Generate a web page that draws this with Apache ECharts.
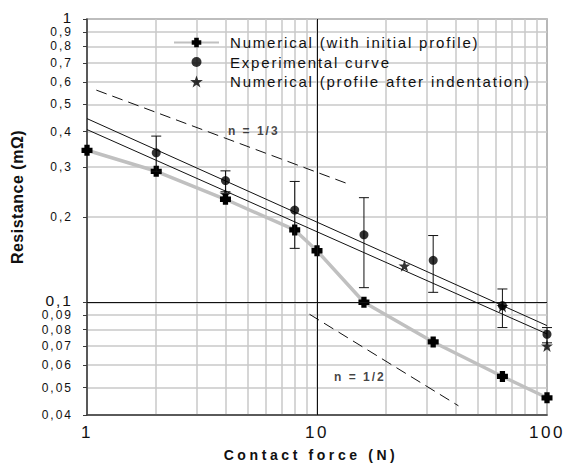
<!DOCTYPE html>
<html>
<head>
<meta charset="utf-8">
<script src="https://cdn.jsdelivr.net/npm/echarts@6/dist/echarts.min.js"></script>
<style>
  html, body { margin: 0; padding: 0; background: #fff; }
  #chart { width: 565px; height: 464px; }
  #chart text { letter-spacing: 2px; }
  #chart text[style*="15px"] { letter-spacing: 1.8px; }
  #chart text[style*="17px"] { letter-spacing: 2.5px; }
  #chart text[style*="bold"] { letter-spacing: 3.6px; }
  #chart text[style*="bold"][style*="12px"] { letter-spacing: 2px; }
  #chart text[style*="bold"][style*="16px"] { letter-spacing: 0.5px; }
</style>
</head>
<body>
<div id="chart"></div>
<script>
// ---- data ----
const seriesNames = ['Numerical (with initial profile)', 'Experimental curve', 'Numerical (profile after indentation)'];
const numInitial = [[1, 0.344], [2, 0.290], [4, 0.231], [8, 0.180], [10, 0.152], [16, 0.100], [32, 0.0724], [64, 0.0547], [100, 0.046]];
const experimental = [[2, 0.337], [4, 0.269], [8, 0.2116], [16, 0.173], [32, 0.1406], [64, 0.0973], [100, 0.0771]];
const expErrors = [[2, 0.29, 0.386], [4, 0.2455, 0.291], [8, 0.155, 0.267], [16, 0.1126, 0.234], [32, 0.1084, 0.172], [64, 0.0814, 0.1114], [100, 0.0719, 0.0814]];
const numIndented = [[4, 0.241], [24, 0.1345], [64, 0.0967], [100, 0.0701]];
const fitUpper = [[1, 0.445], [100, 0.0827]];
const fitLower = [[1, 0.407], [100, 0.0773]];
const slopeThird = [[1.098, 0.561], [13.73, 0.2613]];
const slopeHalf = [[9.28, 0.0907], [41.2, 0.0431]];
const slopeLabels = [[4.10, 0.4025, 'n = 1/3'], [11.86, 0.0546, 'n = 1/2']];
const xTickValues = [1, 2, 3, 4, 5, 6, 7, 8, 9, 10, 20, 30, 40, 50, 60, 70, 80, 90, 100];
const xLabelValues = [1, 10, 100];
const yTickValues = [0.04, 0.05, 0.06, 0.07, 0.08, 0.09, 0.1, 0.2, 0.3, 0.4, 0.5, 0.6, 0.7, 0.8, 0.9, 1];
const xTitle = 'Contact force (N)';
const yTitle = 'Resistance (mΩ)';

const FONT = '"Liberation Sans", Arial, sans-serif';
const plusPath = 'path://M2.6,0H7.4V2.6H10V7.4H7.4V10H2.6V7.4H0V2.6H2.6Z';
const starPath = 'path://M50,2L61.8,36.2L97.6,36.2L68.6,57.4L79.4,91.6L50,70.5L20.6,91.6L31.4,57.4L2.4,36.2L38.2,36.2Z';
const legendCircle = 'path://M0,0M12,12M1,6a5,5 0 1,0 10,0a5,5 0 1,0 -10,0Z';

// an empty guard label just above 1 keeps the min/max label logic from hiding "1" or "0,9"
const yLabelValues = yTickValues.concat([1.00005]);

const chart = echarts.init(document.getElementById('chart'), null, { renderer: 'svg' });

const gridLine = { show: true, lineStyle: { color: '#c8c8c8', width: 1.5 } };

chart.setOption({
  animation: false,
  backgroundColor: '#fff',
  grid: { left: 87, right: 18, top: 19, bottom: 49, show: true, borderColor: '#3a3a3a', borderWidth: 1.2, containLabel: false, outerBoundsMode: 'none' },
  legend: {
    orient: 'vertical', left: 173, top: 35, padding: 0, itemWidth: 45, itemHeight: 12, itemGap: 4.5,
    textStyle: { fontFamily: FONT, fontSize: 15, color: '#111', padding: [0, 0, 0, 6] },
    data: [
      { name: seriesNames[0] },
      { name: seriesNames[1], icon: legendCircle },
      { name: seriesNames[2], icon: starPath }
    ]
  },
  xAxis: {
    type: 'log', logBase: 10, min: 1, max: 100,
    name: xTitle, nameLocation: 'middle', nameGap: 33,
    nameTextStyle: { fontFamily: FONT, fontSize: 14, fontWeight: 'bold', color: '#111', padding: [0, 12, 0, 0] },
    axisLine: { show: true, lineStyle: { color: '#3a3a3a', width: 1.5 } },
    axisTick: { show: false, customValues: xTickValues },
    axisLabel: { customValues: xLabelValues, margin: 9, showMinLabel: true, showMaxLabel: true, hideOverlap: false, fontFamily: FONT, fontSize: 17, color: '#111', formatter: v => String(Math.round(v)) },
    splitLine: gridLine,
    minorTick: { show: false }, minorSplitLine: { show: false }
  },
  yAxis: {
    type: 'log', logBase: 10, min: 0.03999, max: 1.0001,
    name: yTitle, nameLocation: 'middle', nameGap: 62, nameRotate: 90,
    nameTextStyle: { fontFamily: FONT, fontSize: 16, fontWeight: 'bold', color: '#111', padding: [0, 0, 0, 40] },
    axisLine: { show: true, lineStyle: { color: '#3a3a3a', width: 1.5 } },
    axisTick: { show: true, inside: false, length: 4, customValues: yTickValues, lineStyle: { color: '#3a3a3a', width: 1 } },
    axisLabel: {
      customValues: yLabelValues, margin: 14, showMinLabel: true, showMaxLabel: false, hideOverlap: false,
      fontFamily: FONT, fontSize: 12, lineHeight: 10, color: '#111',
      formatter: v => {
        if (v > 1.00001) return '';
        const s = String(Number(v.toPrecision(3))).replace('.', ',');
        if (Math.abs(v - 1) < 1e-6) return '{one|' + s + '}';
        if (Math.abs(v - 0.1) < 1e-6) return '{tenth|' + s + '}';
        return s;
      },
      rich: {
        one: { fontFamily: FONT, fontSize: 15, lineHeight: 11, padding: [0, 0, 4, 0], color: '#111' },
        tenth: { fontFamily: FONT, fontSize: 15.5, lineHeight: 11, padding: [0, 0, 3, 0], color: '#111' }
      }
    },
    splitLine: gridLine,
    minorTick: { show: false }, minorSplitLine: { show: false }
  },
  series: [
    {
      name: 'fitUpper', type: 'line', data: fitUpper, symbol: 'none', z: 2,
      lineStyle: { color: '#111', width: 1 }, silent: true,
      markLine: {
        silent: true, symbol: 'none', label: { show: false },
        lineStyle: { color: '#111', width: 1, type: 'solid' },
        data: [{ xAxis: 10 }, { yAxis: 0.1 }]
      }
    },
    { name: 'fitLower', type: 'line', data: fitLower, symbol: 'none', z: 2, lineStyle: { color: '#111', width: 1 }, silent: true },
    { name: 'slopeThird', type: 'line', data: slopeThird, symbol: 'none', z: 2, lineStyle: { color: '#111', width: 1, type: [11, 6] }, silent: true },
    { name: 'slopeHalf', type: 'line', data: slopeHalf, symbol: 'none', z: 2, lineStyle: { color: '#111', width: 1, type: [11, 6] }, silent: true },
    {
      name: 'labels', type: 'scatter', data: slopeLabels, symbolSize: 0, z: 5, silent: true,
      label: { show: true, position: [0, 0], align: 'left', verticalAlign: 'middle', fontFamily: FONT, fontSize: 12, fontWeight: 'bold', color: '#111', formatter: p => p.data[2] }
    },
    {
      name: seriesNames[0], type: 'line', data: numInitial, z: 3,
      lineStyle: { color: '#c0c0c0', width: 3.5 },
      symbol: plusPath, symbolSize: 11, showAllSymbol: true,
      itemStyle: { color: '#000' }
    },
    {
      name: 'errors', type: 'custom', data: expErrors, z: 4, silent: true,
      encode: { x: 0, y: [1, 2] },
      renderItem: (params, api) => {
        const x = api.value(0);
        const pLo = api.coord([x, api.value(1)]);
        const pHi = api.coord([x, api.value(2)]);
        const w = 5;
        const st = { stroke: '#111', lineWidth: 1 };
        return {
          type: 'group', children: [
            { type: 'line', shape: { x1: pLo[0], y1: pLo[1], x2: pHi[0], y2: pHi[1] }, style: st },
            { type: 'line', shape: { x1: pHi[0] - w, y1: pHi[1], x2: pHi[0] + w, y2: pHi[1] }, style: st },
            { type: 'line', shape: { x1: pLo[0] - w, y1: pLo[1], x2: pLo[0] + w, y2: pLo[1] }, style: st }
          ]
        };
      }
    },
    {
      name: seriesNames[1], type: 'scatter', data: experimental, z: 5,
      symbol: 'circle', symbolSize: 9, itemStyle: { color: '#000' }
    },
    {
      name: seriesNames[2], type: 'scatter', data: numIndented, z: 6,
      symbol: starPath, symbolSize: 12, itemStyle: { color: '#000' }
    }
  ]
});
</script>
</body>
</html>
